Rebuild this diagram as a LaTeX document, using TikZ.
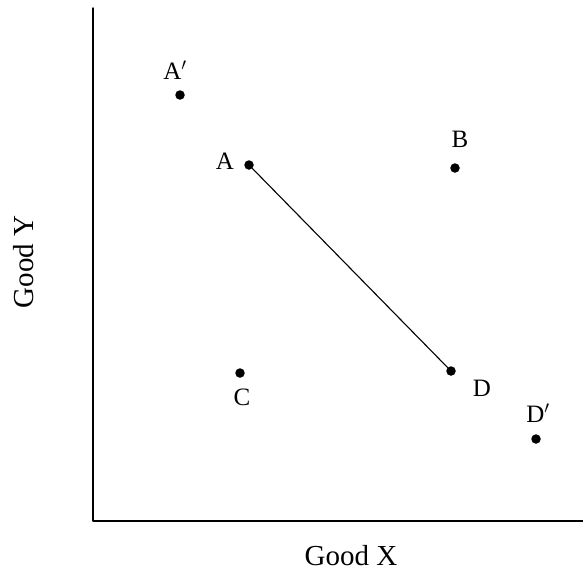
\documentclass[tikz,border=0pt]{standalone}
\usepackage{fontspec}
\setmainfont{Liberation Serif}
\begin{document}
\begin{tikzpicture}[
        x=1pt,
        y=-1pt,
        line join=round,
        line cap=round,
        pt/.style={circle, fill=black, inner sep=0pt, minimum size=9.5pt},
        lbl/.style={font=\fontsize{25}{25}\selectfont, inner sep=0pt},
        axlbl/.style={font=\fontsize{29}{29}\selectfont, inner sep=0pt}
    ]
        % bounding box
        \useasboundingbox (0,0) rectangle (583,574);

        % axes
        \coordinate (O) at (93,521);
        \coordinate (ytop) at (93,8);
        \coordinate (xend) at (583,521);
        \draw[line width=1.4pt] (ytop) -- (O) -- (xend);
        \node[axlbl] (xlab) at (351,556) {Good X};
        \node[axlbl, rotate=90] (ylab) at (24,262) {Good Y};

        % bundles
        \node[pt] (Ap) at (180,95) {};
        \node[pt] (A) at (249,165) {};
        \node[pt] (B) at (455,168) {};
        \node[pt] (C) at (240,373) {};
        \node[pt] (D) at (451,371) {};
        \node[pt] (Dp) at (536,439) {};

        % budget line
        \draw[line width=1.1pt] (A) -- (D);

        % labels
        \node[lbl] (Aplab) at (175,70) {A$'$};
        \node[lbl] (Alab) at (225,161) {A};
        \node[lbl] (Blab) at (460,139) {B};
        \node[lbl] (Clab) at (242,397) {C};
        \node[lbl] (Dlab) at (482,388) {D};
        \node[lbl] (Dplab) at (538,413) {D$'$};
    \end{tikzpicture}
\end{document}
